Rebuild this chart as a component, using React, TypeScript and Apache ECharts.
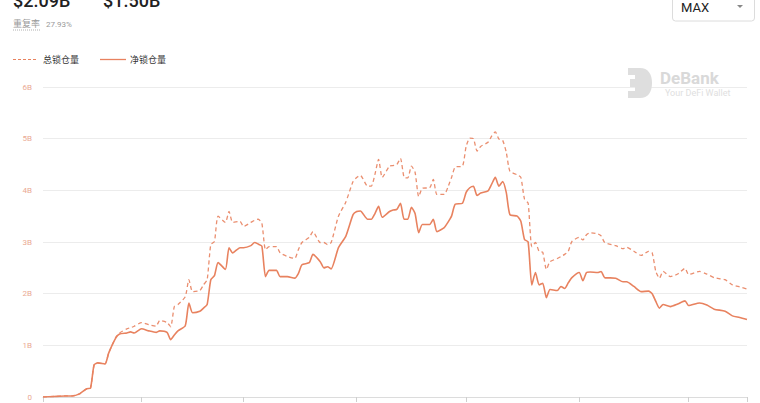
import React, { useEffect, useRef } from "react";
import * as echarts from "echarts";

const dates = [
  "2021-01-05", "2021-01-08", "2021-01-11", "2021-01-13", "2021-01-15", "2021-01-17", "2021-01-18",
  "2021-01-19", "2021-01-20", "2021-01-22", "2021-01-23", "2021-01-25", "2021-01-26", "2021-01-28",
  "2021-01-29", "2021-01-30", "2021-02-01", "2021-02-03", "2021-02-05", "2021-02-06", "2021-02-08",
  "2021-02-09", "2021-02-10", "2021-02-11", "2021-02-13", "2021-02-14", "2021-02-15", "2021-02-17",
  "2021-02-18", "2021-02-19", "2021-02-20", "2021-02-21", "2021-02-22", "2021-02-24", "2021-02-25",
  "2021-02-26", "2021-02-28", "2021-03-01", "2021-03-03", "2021-03-04", "2021-03-05", "2021-03-06",
  "2021-03-07", "2021-03-08", "2021-03-10", "2021-03-11", "2021-03-13", "2021-03-15", "2021-03-16",
  "2021-03-17", "2021-03-19", "2021-03-20", "2021-03-22", "2021-03-23", "2021-03-24", "2021-03-25",
  "2021-03-27", "2021-03-29", "2021-03-31", "2021-04-01", "2021-04-02", "2021-04-04", "2021-04-05",
  "2021-04-06", "2021-04-07", "2021-04-08", "2021-04-10", "2021-04-11", "2021-04-12", "2021-04-13",
  "2021-04-14", "2021-04-15", "2021-04-16", "2021-04-17", "2021-04-18", "2021-04-19", "2021-04-21",
  "2021-04-22", "2021-04-23", "2021-04-25", "2021-04-26", "2021-04-27", "2021-04-28", "2021-04-30",
  "2021-05-01", "2021-05-02", "2021-05-03", "2021-05-04", "2021-05-05", "2021-05-07", "2021-05-08",
  "2021-05-09", "2021-05-10", "2021-05-11", "2021-05-12", "2021-05-13", "2021-05-15", "2021-05-16",
  "2021-05-17", "2021-05-18", "2021-05-19", "2021-05-20", "2021-05-21", "2021-05-22", "2021-05-23",
  "2021-05-24", "2021-05-26", "2021-05-27", "2021-05-28", "2021-05-29", "2021-05-30", "2021-06-01",
  "2021-06-02", "2021-06-03", "2021-06-04", "2021-06-06", "2021-06-07", "2021-06-08", "2021-06-11",
  "2021-06-13", "2021-06-14", "2021-06-16", "2021-06-18", "2021-06-20", "2021-06-21", "2021-06-22",
  "2021-06-23", "2021-06-24", "2021-06-26", "2021-06-28", "2021-06-30", "2021-07-01", "2021-07-04",
  "2021-07-06", "2021-07-08", "2021-07-11", "2021-07-13", "2021-07-15", "2021-07-17",
];

// 总锁仓量 (billions)
const totalTvl = [
  0, 0.01, 0.02, 0.02, 0.06, 0.16, 0.17,
  0.62, 0.66, 0.64, 0.85, 1.16, 1.24, 1.32,
  1.34, 1.37, 1.44, 1.4, 1.37, 1.48, 1.44,
  1.36, 1.75, 1.79, 1.94, 2.27, 2.04, 2.06,
  2.17, 2.27, 2.95, 3.01, 3.5, 3.38, 3.59,
  3.38, 3.4, 3.3, 3.38, 3.42, 3.44, 3.36,
  2.85, 2.91, 2.91, 2.79, 2.72, 2.68, 2.85,
  2.99, 3.09, 3.2, 2.99, 2.99, 2.95, 2.99,
  3.5, 3.77, 4.17, 4.25, 4.29, 4.08, 4.08,
  4.31, 4.6, 4.25, 4.47, 4.48, 4.5, 4.62,
  4.25, 4.24, 4.47, 4.35, 3.88, 4.04, 4.05,
  4.21, 3.92, 3.92, 4.06, 4.25, 4.45, 4.47,
  4.85, 5.01, 5.0, 4.76, 4.85, 4.93, 5.05,
  5.13, 4.99, 4.97, 4.74, 4.37, 4.3, 4.25,
  3.83, 3.75, 2.91, 2.99, 2.82, 2.8, 2.47,
  2.62, 2.68, 2.72, 2.76, 2.82, 3.01, 3.09,
  3.04, 3.14, 3.18, 3.16, 3.12, 2.99, 2.93,
  2.87, 2.9, 2.82, 2.74, 2.82, 2.79, 2.43,
  2.3, 2.43, 2.33, 2.38, 2.49, 2.37, 2.43,
  2.38, 2.31, 2.27, 2.17, 2.13, 2.09,
];

// 净锁仓量 (billions)
const netTvl = [
  0, 0.01, 0.02, 0.02, 0.06, 0.16, 0.17,
  0.62, 0.66, 0.64, 0.85, 1.15, 1.22, 1.24,
  1.26, 1.24, 1.32, 1.28, 1.25, 1.28, 1.25,
  1.11, 1.2, 1.28, 1.38, 1.82, 1.63, 1.66,
  1.72, 1.79, 2.27, 2.35, 2.6, 2.47, 2.89,
  2.79, 2.89, 2.89, 2.93, 2.99, 2.96, 2.92,
  2.33, 2.45, 2.45, 2.33, 2.33, 2.3, 2.39,
  2.56, 2.6, 2.76, 2.62, 2.5, 2.52, 2.48,
  2.89, 3.11, 3.53, 3.59, 3.6, 3.44, 3.44,
  3.55, 3.69, 3.48, 3.59, 3.62, 3.63, 3.75,
  3.44, 3.44, 3.67, 3.55, 3.18, 3.34, 3.34,
  3.44, 3.2, 3.28, 3.38, 3.5, 3.73, 3.75,
  3.96, 4.05, 4.08, 3.9, 3.95, 3.99, 4.12,
  4.25, 4.08, 4.17, 3.96, 3.53, 3.5, 3.4,
  3.05, 3.0, 2.17, 2.41, 2.17, 2.2, 1.92,
  2.08, 2.06, 2.14, 2.1, 2.21, 2.31, 2.41,
  2.25, 2.41, 2.42, 2.41, 2.43, 2.31, 2.3,
  2.23, 2.23, 2.14, 2.04, 2.05, 2.0, 1.85,
  1.72, 1.79, 1.75, 1.8, 1.86, 1.77, 1.82,
  1.78, 1.7, 1.66, 1.57, 1.54, 1.5,
];

const yTickLabels = ["0", "1B", "2B", "3B", "4B", "5B", "6B"];
const legendNames = ["总锁仓量", "净锁仓量"];
const headerValues = ["$2.09B", "$1.50B"];
const overlapLabel = "重复率";
const overlapValue = "27.93%";

const LINE_COLOR = "#e8825f";
const FONT = "Roboto, 'Noto Sans CJK SC', sans-serif";

echarts.graphic.registerShape(
  "logo",
  echarts.graphic.extendPath(
    "M0 0 H12 C20 0 24 6 24 15 C24 24 20 30 12 30 H0 V23 H7 V19 H2 V11 H7 V7 H0 Z",
    {}
  )
);

export default function App() {
  const ref = useRef<HTMLDivElement>(null);
  useEffect(() => {
    if (!ref.current) return;
    const chart = echarts.init(ref.current, undefined, { renderer: "svg" });
    chart.setOption({
      animation: false,
      backgroundColor: "#ffffff",
      grid: { left: 43, right: 13, top: 87, bottom: 6, containLabel: false },
      xAxis: {
        type: "time",
        min: "2021-01-05",
        max: "2021-07-17",
        splitNumber: 6,
        axisLine: { show: true, lineStyle: { color: "#dcdcdc", width: 1 } },
        axisTick: { show: true, length: 5, lineStyle: { color: "#cfcfcf" } },
        axisLabel: { show: false },
        splitLine: { show: false },
      },
      yAxis: {
        type: "value",
        min: 0,
        max: 6,
        interval: 1,
        axisLine: { show: false },
        axisTick: { show: false },
        axisLabel: {
          color: "#eaa994",
          fontSize: 8,
          fontFamily: FONT,
          margin: 11,
          formatter: (v: number) => yTickLabels[Math.round(v)] ?? "",
        },
        splitLine: { lineStyle: { color: "#ececec", width: 1 } },
      },
      series: [
        {
          name: legendNames[0],
          type: "line",
          showSymbol: false,
          smooth: 0.2,
          data: dates.map((d, i) => [d, totalTvl[i]]),
          lineStyle: { color: LINE_COLOR, width: 1.3, type: [4, 3], opacity: 0.9 },
          itemStyle: { color: LINE_COLOR },
          z: 3,
        },
        {
          name: legendNames[1],
          type: "line",
          showSymbol: false,
          smooth: 0.2,
          data: dates.map((d, i) => [d, netTvl[i]]),
          lineStyle: { color: LINE_COLOR, width: 1.6 },
          itemStyle: { color: LINE_COLOR },
          z: 4,
        },
      ],
      graphic: [
        // header values
        {
          type: "text",
          x: 13,
          y: 9,
          style: { text: headerValues[0], fill: "#222", font: `500 18px ${FONT}`, verticalAlign: "bottom" },
        },
        {
          type: "text",
          x: 103,
          y: 9,
          style: { text: headerValues[1], fill: "#222", font: `500 18px ${FONT}`, verticalAlign: "bottom" },
        },
        {
          type: "text",
          x: 13,
          y: 24,
          style: { text: overlapLabel, fill: "#999", font: `9px ${FONT}`, verticalAlign: "middle" },
        },
        {
          type: "line",
          shape: { x1: 13, y1: 30, x2: 41, y2: 30 },
          style: { stroke: "#b0b0b0", lineWidth: 1, lineDash: [1, 1] },
        },
        {
          type: "text",
          x: 46,
          y: 24,
          style: { text: overlapValue, fill: "#999", font: `8px ${FONT}`, verticalAlign: "middle" },
        },
        // legend
        {
          type: "line",
          shape: { x1: 13, y1: 59.5, x2: 37, y2: 59.5 },
          style: { stroke: LINE_COLOR, lineWidth: 1, lineDash: [3, 2] },
        },
        {
          type: "text",
          x: 43,
          y: 59.5,
          style: { text: legendNames[0], fill: "#333", font: `9px ${FONT}`, verticalAlign: "middle" },
        },
        {
          type: "line",
          shape: { x1: 100, y1: 59.5, x2: 126, y2: 59.5 },
          style: { stroke: LINE_COLOR, lineWidth: 1.3 },
        },
        {
          type: "text",
          x: 130,
          y: 59.5,
          style: { text: legendNames[1], fill: "#333", font: `9px ${FONT}`, verticalAlign: "middle" },
        },
        // MAX dropdown
        {
          type: "rect",
          shape: { x: 672.5, y: -6, width: 82, height: 27, r: 3 },
          style: { fill: "#fff", stroke: "#dcdcdc", lineWidth: 1 },
        },
        {
          type: "text",
          x: 681,
          y: 7,
          style: { text: "MAX", fill: "#222", font: `13px ${FONT}`, verticalAlign: "middle" },
        },
        {
          type: "polygon",
          shape: { points: [[737, 5], [743, 5], [740, 8]] },
          style: { fill: "#888" },
        },
        // DeBank watermark
        {
          type: "logo",
          x: 628,
          y: 68,
          scaleX: 1,
          scaleY: 1,
          style: { fill: "#dedede" },
          z: 1,
        },
        {
          type: "text",
          x: 660,
          y: 77.5,
          style: { text: "DeBank", fill: "#d9d9d9", font: `bold 17px ${FONT}`, verticalAlign: "middle" },
          z: 1,
        },
        {
          type: "text",
          x: 665,
          y: 92.5,
          style: { text: "Your DeFi Wallet", fill: "#e0e0e0", font: `9px ${FONT}`, verticalAlign: "middle" },
          z: 1,
        },
      ],
    });
    return () => chart.dispose();
  }, []);
  return (
    <div
      ref={ref}
      style={{ position: "absolute", left: 0, top: 0, width: 760, height: 403 }}
    />
  );
}
